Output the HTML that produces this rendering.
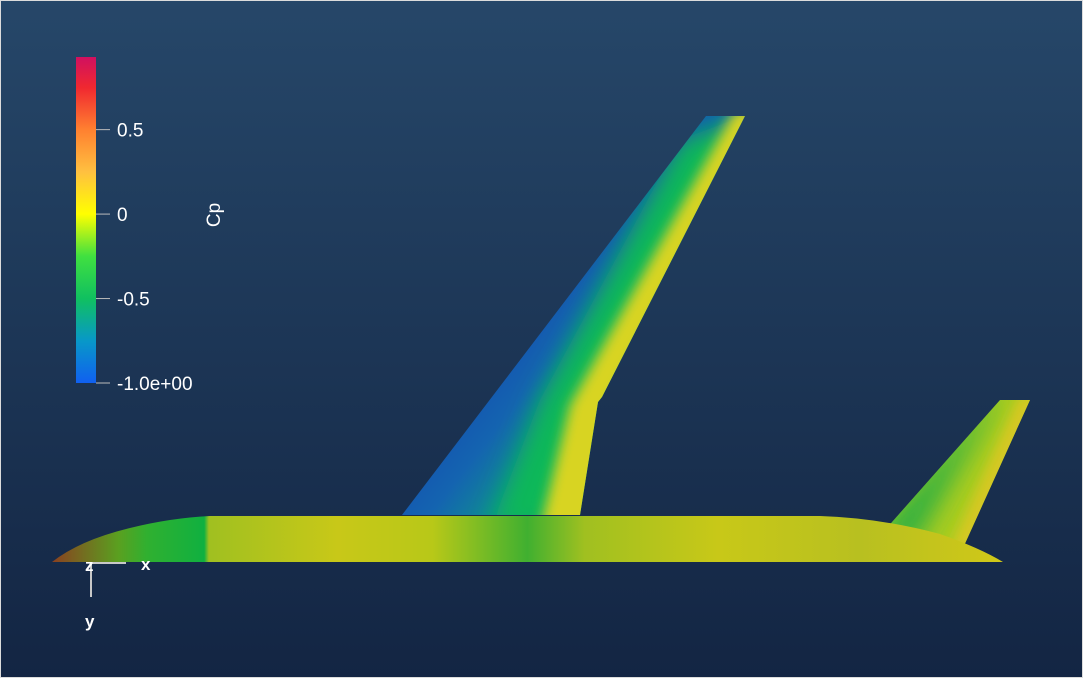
<!DOCTYPE html>
<html><head><meta charset="utf-8"><style>
html,body{margin:0;padding:0;width:1083px;height:678px;overflow:hidden;background:#fff}
svg{display:block;font-family:"Liberation Sans",sans-serif}
</style></head><body>
<svg width="1083" height="678" viewBox="0 0 1083 678">
<defs>
<linearGradient id="bg" x1="0" y1="0" x2="0" y2="1"><stop offset="0" stop-color="#264769"/><stop offset="1" stop-color="#132543"/></linearGradient>
<linearGradient id="cbar" x1="0" y1="1" x2="0" y2="0"></linearGradient>
<linearGradient id="wingG" gradientUnits="userSpaceOnUse" x1="470" y1="370" x2="560" y2="440">
<stop offset="0" stop-color="#1550b0"/><stop offset="0.5" stop-color="#1464b0"/><stop offset="1" stop-color="#0e9090"/></linearGradient>
<clipPath id="wingClip"><path d="M402,515 L706,116 L745,116 L602,397 L598,402 L580,515 Z"/></clipPath>
<clipPath id="tailClip"><path d="M885,530 L1000,400 L1030,400 L963,548 Z"/></clipPath>
<filter id="blur12" x="-50%" y="-50%" width="200%" height="200%"><feGaussianBlur stdDeviation="12"/></filter>
<filter id="blur6" x="-50%" y="-50%" width="200%" height="200%"><feGaussianBlur stdDeviation="6"/></filter>
<linearGradient id="fusG" gradientUnits="userSpaceOnUse" x1="52" y1="0" x2="1003" y2="0">
<stop offset="0" stop-color="#8a4020"/><stop offset="0.07" stop-color="#5aa020"/><stop offset="0.1" stop-color="#30b030"/><stop offset="0.16" stop-color="#10b040"/><stop offset="0.165" stop-color="#a0c020"/><stop offset="0.3" stop-color="#c8c818"/><stop offset="0.4" stop-color="#b8c818"/><stop offset="0.5" stop-color="#40b030"/><stop offset="0.56" stop-color="#a0c020"/><stop offset="0.7" stop-color="#c8c818"/><stop offset="0.85" stop-color="#b8c020"/><stop offset="1" stop-color="#d0c818"/></linearGradient>
</defs>
<rect x="0" y="0" width="1083" height="678" fill="url(#bg)" stroke="#dcdcdc" stroke-width="2"/>
<g>
<path d="M402,515 L706,116 L745,116 L602,397 L598,402 L580,515 Z" fill="url(#wingG)"/>
<g clip-path="url(#wingClip)">
<path d="M680,140 L760,110 L610,400 L590,530 L490,530 L540,400 Z" fill="#10b858" filter="url(#blur12)"/>
<path d="M735,110 L760,110 L612,400 L590,530 L540,530 L570,405 Z" fill="#d8d420" filter="url(#blur6)"/>
</g>
<path d="M885,530 L1000,400 L1030,400 L963,548 Z" fill="#a8cc20"/>
<g clip-path="url(#tailClip)">
<path d="M870,540 L995,395 L1000,395 L915,545 Z" fill="#30b040" filter="url(#blur12)"/>
<path d="M1020,395 L1040,395 L970,550 L950,550 Z" fill="#d8c820" filter="url(#blur6)"/>
</g>
<path d="M52,562 Q80,540 130,528 Q170,518 210,516 L820,516 Q880,518 940,534 Q980,548 1003,562 Z" fill="url(#fusG)"/>
</g>
<g id="colorbar"></g>
<g fill="#fff" font-size="17" font-weight="bold">
<line x1="91" y1="563" x2="126" y2="563" stroke="#c8c8c8" stroke-width="2"/>
<line x1="91" y1="563" x2="91" y2="597" stroke="#c8c8c8" stroke-width="2"/>
<text x="85" y="571">z</text>
<text x="141" y="570">x</text>
<text x="85" y="627">y</text>
</g>
</svg>
<script>
const cbMin = -1.0, cbMax = 0.93;
const cbStopVals = [-1.0, -0.75, -0.5, -0.25, 0, 0.25, 0.5, 0.75, 0.93];
const cbStopColors = ["#1060f0","#0898c8","#10c060","#40e040","#ffff00","#ffc040","#ff8030","#f02830","#d01060"];
const tickVals = [0.5, 0, -0.5, -1.0];
const tickLabels = ["0.5", "0", "-0.5", "-1.0e+00"];
const NS = "http://www.w3.org/2000/svg";
const cbTop = 57, cbBot = 383, bx = 76, bw = 20;
function yScale(v){ return cbBot - (v - cbMin) / (cbMax - cbMin) * (cbBot - cbTop); }
const grad = document.getElementById('cbar');
cbStopVals.forEach((v,i)=>{
  const s = document.createElementNS(NS,'stop');
  s.setAttribute('offset', ((v-cbMin)/(cbMax-cbMin)).toFixed(4));
  s.setAttribute('stop-color', cbStopColors[i]);
  grad.appendChild(s);
});
const cb = document.getElementById('colorbar');
const r = document.createElementNS(NS,'rect');
r.setAttribute('x',bx); r.setAttribute('y',cbTop); r.setAttribute('width',bw); r.setAttribute('height',cbBot-cbTop);
r.setAttribute('fill','url(#cbar)');


cb.appendChild(r);
tickVals.forEach((v,i)=>{
  const y = yScale(v);
  const l = document.createElementNS(NS,'line');
  l.setAttribute('x1',bx+bw); l.setAttribute('x2',bx+bw+14); l.setAttribute('y1',y); l.setAttribute('y2',y);
  l.setAttribute('stroke','#bbbbbb'); l.setAttribute('stroke-width','1');
  
  
  cb.appendChild(l);
  const t = document.createElementNS(NS,'text');
  t.setAttribute('x',117); t.setAttribute('y',y+7); t.setAttribute('fill','#ffffff'); t.setAttribute('font-size','19');
  t.textContent = tickLabels[i];
  
  
  cb.appendChild(t);
});
const title = document.createElementNS(NS,'text');
title.setAttribute('transform','translate(220,215) rotate(-90)');
title.setAttribute('text-anchor','middle'); title.setAttribute('fill','#fff'); title.setAttribute('font-size','19');
title.textContent = 'Cp';


cb.appendChild(title);
</script>
</body></html>
